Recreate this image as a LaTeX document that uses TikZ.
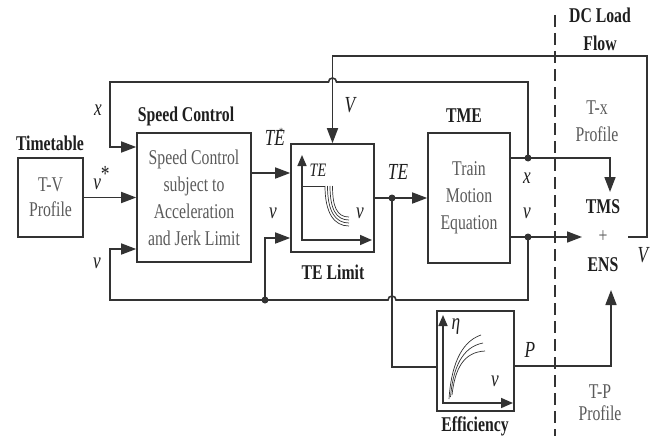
\documentclass[tikz,border=0pt]{standalone}
\usepackage{fontspec}
\setmainfont{Liberation Serif}[FakeStretch=0.75]
\usetikzlibrary{arrows.meta,calc}
\definecolor{ln}{HTML}{333333}
\definecolor{gt}{HTML}{5A5A5A}
\definecolor{tx}{HTML}{1E1E1E}
\begin{document}
\begin{tikzpicture}[x=1pt,y=-1pt,
  box/.style={draw=ln,line width=1.6pt,inner sep=0pt,align=center,text=gt,font=\fontsize{21}{27}\selectfont},
  ttl/.style={inner sep=0pt,align=center,text=tx,font=\fontsize{21}{27}\selectfont\bfseries},
  gtxt/.style={inner sep=0pt,align=center,text=gt,font=\fontsize{21}{27}\selectfont},
  lbl/.style={inner sep=0pt,text=tx,font=\fontsize{23}{24}\selectfont\itshape},
  wire/.style={draw=ln,line width=1.6pt},
  arr/.style={-{Triangle[length=15pt,width=11pt]}},
  sarr/.style={{Triangle[length=11pt,width=9pt]}-{Triangle[length=12pt,width=10pt]}},
  thinc/.style={draw=ln,line width=0.7pt},
  dot/.style={circle,fill=ln,inner sep=0pt,minimum size=7pt}]
\useasboundingbox (0,0) rectangle (652,436);

% blocks
\node[box,minimum width=65pt,minimum height=79pt,font=\fontsize{21}{25}\selectfont] (tt) at (50.5,197.5) {T-V\\Profile};
\node[box,minimum width=114pt,minimum height=129pt] (sc) at (194,197.5) {Speed Control\\subject to\\Acceleration\\and Jerk Limit};
\node[box,minimum width=83pt,minimum height=108pt] (tel) at (332.5,198) {};
\node[box,minimum width=82pt,minimum height=130pt] (tme) at (469,198) {Train\\Motion\\Equation};
\node[box,minimum width=77pt,minimum height=100pt] (eff) at (475.5,361) {};
\node[ttl,minimum width=50pt,minimum height=94pt,font=\fontsize{21}{29}\selectfont\bfseries] (tms) at (603,236) {TMS\\{\mdseries\color{gt}+}\\ENS};

% titles
\node[ttl] (ttT) at (50,143) {Timetable};
\node[ttl] (scT) at (186,116) {Speed Control};
\node[ttl] (telT) at (333,272) {TE Limit};
\node[ttl] (tmeT) at (464,116) {TME};
\node[ttl] (effT) at (475,426) {Efficiency};
\node[ttl,font=\fontsize{21}{28}\selectfont\bfseries] (dcT) at (600,29) {DC Load\\Flow};
\node[gtxt] (txp) at (597,121) {T-x\\Profile};
\node[gtxt,font=\fontsize{21}{22}\selectfont] (tpp) at (600,403) {T-P\\Profile};

% signal labels
\node[lbl] (lx) at (98,110) {x};
\node[lbl] (lvs) at (101,178) {v\kern-1pt\raisebox{8pt}{*}};
\node[lbl] (lv1) at (97,263) {v};
\node[lbl] (lte1) at (274,137) {TE\kern-6pt\raisebox{10pt}{\fontsize{11}{11}\selectfont\upshape*}};
\node[lbl] (lV1) at (350,105) {V};
\node[lbl] (lv2) at (273,213) {v};
\node[lbl] (lte2) at (398,172) {TE};
\node[lbl] (lx2) at (527,178) {x};
\node[lbl] (lv3) at (527,213) {v};
\node[lbl] (lV2) at (643,255) {V};
\node[lbl] (lP) at (530,350) {P};

% routing points
\coordinate (tedotc) at (392,198);
\coordinate (xdotc) at (528,158);
\coordinate (vdotc) at (528,237);
\coordinate (bdotc) at (265,300);
\coordinate (xtop) at (110,82);
\coordinate (bot) at (110,300);
\coordinate (vtop) at (647,56);
\coordinate (tmsN) at (610,192);
\coordinate (tmsW) at (582,237);
\coordinate (tmsS) at (611,290);
\coordinate (tmsE) at (628,237);
\coordinate (dtop) at (555,15);
\coordinate (dbot) at (555,436);

% connectors
\draw[wire,arr] (tt.east) -- (sc.west);
\draw[wire,arr] (xdotc) -- (xdotc |- xtop) -- ($(tel.north |- xtop)+(4,0)$) arc[start angle=0,end angle=180,radius=4pt] -- (xtop) |- ([yshift=50.5pt]sc.west);
\draw[wire,arr] (tmsE) -- (tmsE -| vtop) -- (vtop) -- (vtop -| tel.north) -- (tel.north);
\draw[wire,arr] ([yshift=24.5pt]sc.east) -- ([yshift=25pt]tel.west);
\draw[wire,arr] (bdotc) |- ([yshift=-40pt]tel.west);
\draw[wire,arr] (tel.east) -- (tme.west);
\draw[wire] (tedotc) |- ([yshift=-6pt]eff.west);
\draw[wire,arr] ([yshift=40pt]tme.east) -| (tmsN);
\draw[wire,arr] ([yshift=-39pt]tme.east) -- (tmsW);
\draw[wire,arr] (vdotc) -- (vdotc |- bot) -- ($(tedotc |- bot)+(4,0)$) arc[start angle=0,end angle=180,radius=4pt] -- (bot) |- ([yshift=-51.5pt]sc.west);
\draw[wire,arr] ([yshift=-5pt]eff.east) -| (tmsS);
\draw[draw=ln,line width=1.4pt,dash pattern=on 12pt off 6pt] (dtop) -- (dbot);

% TE limit inner graph
\draw[wire,sarr] (302,155) -- (302,240) -- (372,240);
\draw[thinc] (302,186) -- (325,186);
\foreach \i in {0,1,2,3}{
  \draw[thinc] (325+2.5*\i,186) .. controls (325+2.5*\i,213-2*\i) and (334+\i,226-3*\i) .. (349,226-3*\i);
}
\node[lbl,font=\fontsize{19}{20}\selectfont\itshape] (ite) at (318,170) {TE};
\node[lbl] (iv) at (360,213) {v};

% Efficiency inner graph
\draw[wire,sarr] (443,315) -- (443,403) -- (513,403);
\foreach \i in {0,1,2}{
  \draw[thinc] (449+1.5*\i,399-2*\i) .. controls (451+2*\i,368) and (460+2*\i,342+5*\i) .. (481+2*\i,335+8*\i);
}
\node[lbl] (ieta) at (456,327) {η};
\node[lbl] (iv2) at (495,381) {v};

% junction dots
\node[dot] (tedot) at (tedotc) {};
\node[dot] (xdot) at (xdotc) {};
\node[dot] (vdot) at (vdotc) {};
\node[dot] (bdot) at (bdotc) {};
\end{tikzpicture}
\end{document}
